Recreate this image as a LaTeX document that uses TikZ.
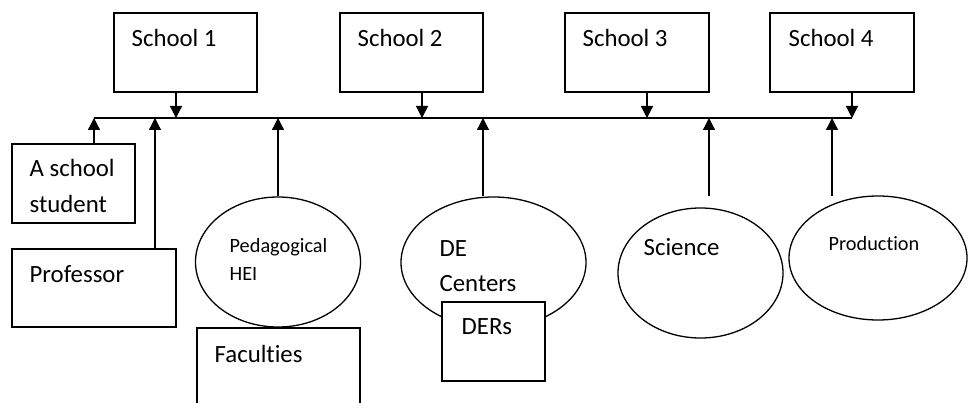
\documentclass[tikz,border=0pt]{standalone}
\usepackage{fontspec}
\setmainfont[Ligatures=NoCommon]{Carlito}
\usetikzlibrary{arrows.meta,shapes.geometric}
\begin{document}
\begin{tikzpicture}[x=1pt,y=-1pt,line width=1.3pt,
  rbox/.style 2 args={draw,rectangle,inner sep=0pt,minimum width=#1,minimum height=#2},
  oval/.style 2 args={draw,ellipse,inner sep=0pt,minimum width=#1,minimum height=#2},
  bigtxt/.style={inner sep=0pt,anchor=base west,font=\fontsize{24.8}{30}\selectfont},
  smalltxt/.style={inner sep=0pt,anchor=base west,font=\fontsize{20.3}{25}\selectfont},
  arr/.style={-{Triangle[length=12pt,width=12pt]}}]
\clip (0,0) rectangle (968,403);

% schools
\node[rbox={143pt}{79pt}] (s1) at (185.5,52.5) {};
\node[rbox={143pt}{79pt}] (s2) at (411.5,52.5) {};
\node[rbox={144pt}{79pt}] (s3) at (637,52.5) {};
\node[rbox={144pt}{79pt}] (s4) at (842,52.5) {};
\node[bigtxt] (t1) at (131,46.5) {School 1};
\node[bigtxt] (t2) at (357,46.5) {School 2};
\node[bigtxt] (t3) at (582,46.5) {School 3};
\node[bigtxt] (t4) at (788,46.5) {School 4};

% participants
\node[rbox={123pt}{79pt}] (stu) at (73.5,183.5) {};
\node[bigtxt] (tstu1) at (29,177) {A school};
\node[bigtxt] (tstu2) at (29,213) {student};
\node[rbox={164pt}{78pt}] (prof) at (94,288) {};
\node[bigtxt] (tprof) at (29,282) {Professor};

\node[oval={165pt}{130pt}] (ped) at (278,262) {};
\node[smalltxt] (tped1) at (229,252) {Pedagogical};
\node[smalltxt] (tped2) at (229,280) {HEI};
\node[rbox={163pt}{102pt}] (fac) at (278.5,379) {};
\node[bigtxt] (tfac) at (214,362) {Faculties};

\node[oval={185pt}{131pt}] (de) at (493.5,262.5) {};
\node[bigtxt] (tde1) at (439,256) {DE};
\node[bigtxt] (tde2) at (439,291) {Centers};
\node[rbox={103pt}{79pt},fill=white] (ders) at (493.5,341.5) {};
\node[bigtxt] (tders) at (461,334) {DERs};

\node[oval={165pt}{130pt}] (sci) at (700.5,273) {};
\node[bigtxt] (tsci) at (643,255) {Science};
\node[oval={178pt}{124pt}] (prod) at (878,258) {};
\node[smalltxt] (tprod) at (828,251) {Production};

% common line
\coordinate (busL) at (94,118);
\coordinate (busR) at (852,118);
\draw (busL) -- (busR);

% school outputs
\coordinate (b1) at (176,118);
\coordinate (b2) at (422,118);
\coordinate (b3) at (647,118);
\coordinate (b4) at (852,118);
\draw[arr] (s1.south -| b1) -- (b1);
\draw[arr] (s2.south -| b2) -- (b2);
\draw[arr] (s3.south -| b3) -- (b3);
\draw[arr] (s4.south -| b4) -- (b4);

% inputs
\coordinate (u1) at (94,118);
\coordinate (u2) at (155,118);
\coordinate (u3) at (278,118);
\coordinate (u4) at (483,118);
\coordinate (u5) at (709,118);
\coordinate (u6) at (832,118);
\coordinate (e5) at (709,196);
\coordinate (e6) at (832,196);
\draw[arr] (stu.north -| u1) -- (u1);
\draw[arr] (prof.north -| u2) -- (u2);
\draw[arr] (ped.north) -- (u3);
\draw[arr] (de.north -| u4) -- (u4);
\draw[arr] (e5) -- (u5);
\draw[arr] (e6) -- (u6);
\end{tikzpicture}
\end{document}
